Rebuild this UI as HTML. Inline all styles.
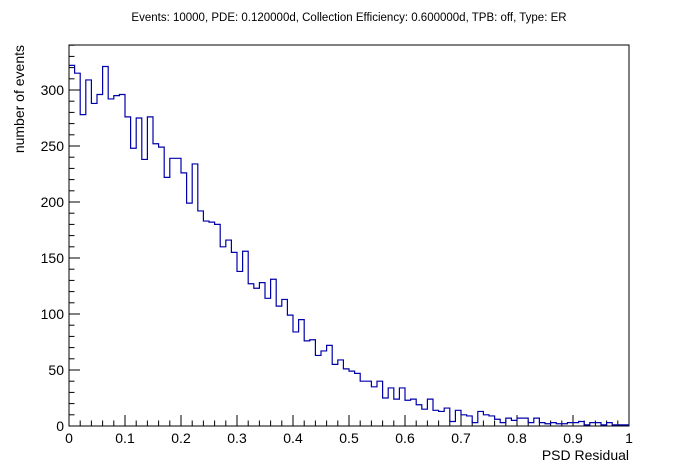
<!DOCTYPE html>
<html><head><meta charset="utf-8"><style>
body{margin:0;background:#fff;}
svg{display:block;font-family:"Liberation Sans",sans-serif;}
</style></head><body>
<svg id="chart" width="698" height="474" viewBox="0 0 698 474">
<rect x="0" y="0" width="698" height="474" fill="#fff"/>
<text x="349" y="21" font-size="11.5" text-anchor="middle">Events: 10000, PDE: 0.120000d, Collection Efficiency: 0.600000d, TPB: off, Type: ER</text>
<rect x="69" y="45" width="560" height="381" fill="none" stroke="#000" stroke-width="1"/>
<g id="axes"></g>
<path id="hist" fill="none" stroke="#0000aa" stroke-width="1.2"/>
<text x="629" y="460" font-size="14" text-anchor="end">PSD Residual</text>
<text transform="translate(24,45) rotate(-90)" font-size="14" text-anchor="end">number of events</text>
</svg>
<script>
const counts = [322,315,278,309,288,296,321,292,295,296,
276,248,275,238,276,252,249,222,239,239,
226,199,234,192,183,182,180,160,166,155,
138,156,127,123,128,114,131,107,113,99,
84,95,76,77,63,67,72,55,59,51,
49,47,40,40,35,40,25,34,24,34,
23,24,19,15,24,14,13,16,4,14,
10,9,3,13,10,9,6,3,7,5,
7,7,3,7,3,2,3,2,2,3,
3,4,1,3,3,1,3,1,1,1];
const yTicks = [0,50,100,150,200,250,300];
const xTicks = [0,0.1,0.2,0.3,0.4,0.5,0.6,0.7,0.8,0.9,1];
const xLabels = ["0","0.1","0.2","0.3","0.4","0.5","0.6","0.7","0.8","0.9","1"];
const X0=69,X1=629,Y0=426,PPU=1.12;
function sx(v){return X0+(X1-X0)*v;}
function sy(v){return Y0-v*PPU;}
const ns="http://www.w3.org/2000/svg";
const g=document.getElementById('axes');
function line(x1,y1,x2,y2,name){const l=document.createElementNS(ns,'line');l.setAttribute('x1',x1);l.setAttribute('y1',y1);l.setAttribute('x2',x2);l.setAttribute('y2',y2);l.setAttribute('stroke','#000');l.setAttribute('stroke-width','1');


g.appendChild(l);}
function text(x,y,s,anchor,name){const t=document.createElementNS(ns,'text');t.setAttribute('x',x);t.setAttribute('y',y);t.setAttribute('font-size','14');t.setAttribute('text-anchor',anchor);t.textContent=s;


g.appendChild(t);}
for(let v=0;v<=340;v+=10){const y=sy(v);if(y<45)break;const major=v%50===0;line(X0,y,X0+(major?11:5.5),y,major?'y-major-tick':'y-minor-tick');}
yTicks.forEach(v=>text(64,sy(v)+5,String(v),'end','y-tick-label'));
for(let i=0;i<=50;i++){const v=i*0.02;const x=sx(v);const major=i%5===0;line(x,Y0,x,Y0-(major?11:5.5),major?'x-major-tick':'x-minor-tick');}
xTicks.forEach((v,i)=>text(sx(v),443,xLabels[i],'middle','x-tick-label'));
const bw=(X1-X0)/counts.length;
let d='M'+X0+','+sy(counts[0]);
counts.forEach((c,i)=>{const xa=X0+i*bw,xb=xa+bw;if(i>0)d+=' L'+xa+','+sy(c);d+=' L'+xb+','+sy(c);});
document.getElementById('hist').setAttribute('d',d);
</script>
</body></html>
